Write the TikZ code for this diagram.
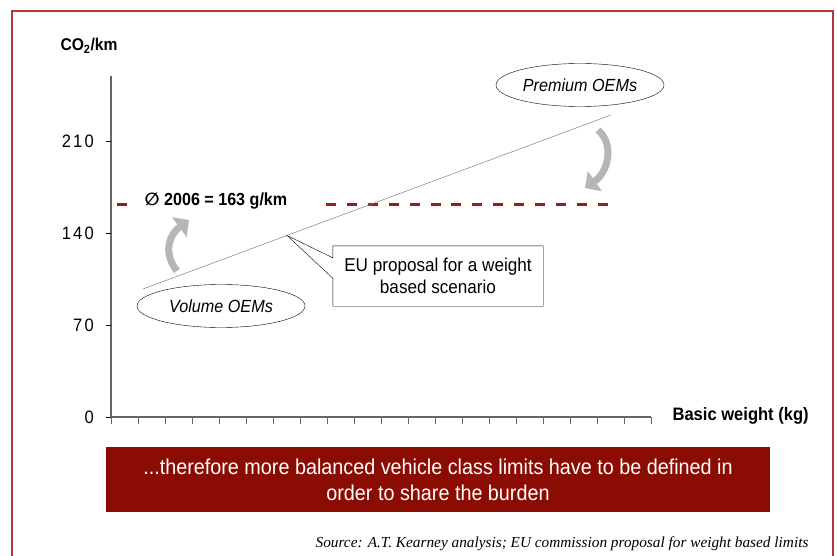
\documentclass[tikz,border=0pt]{standalone}
\usepackage{fontspec}
\setmainfont{Liberation Sans}[FakeStretch=0.92]
\newfontfamily\srcfont{Liberation Serif}
\newfontfamily\symfont{DejaVu Sans}
\usetikzlibrary{shapes.geometric,arrows.meta}
\definecolor{framered}{RGB}{176,58,58}
\definecolor{avgred}{RGB}{155,27,27}
\definecolor{boxred}{RGB}{139,12,3}
\definecolor{arrowgrey}{RGB}{181,182,184}

\begin{document}
\begin{tikzpicture}[x=1pt,y=-1pt,
  axis/.style={draw=black!60,line width=1.1pt},
  oem/.style={ellipse,draw,thin,fill=white,minimum width=168pt,minimum height=43pt,inner sep=0pt,font=\fontsize{17.6}{20}\selectfont\itshape},
  trendarrow/.style={draw=arrowgrey,line width=7pt,-{Triangle[angle=90:17pt]}},
  avgline/.style={draw=avgred,line width=3pt,dash pattern=on 10pt off 10.9pt}]
 \useasboundingbox (0,0) rectangle (837,556);
 \draw[framered,line width=1.5pt] (12,556) -- (12,11) -- (833,11) -- (833,556);

 % axes
 \node[font=\fontsize{17}{19}\selectfont\bfseries] (ylab) at (89,46) {CO\textsubscript{2}/km};
 \draw[axis] (111,76) -- (111,417) -- (651,417);
 \foreach \v/\y in {0/417,70/325,140/233,210/141}{
   \node[anchor=east,inner xsep=1pt,font=\fontsize{18}{20}\selectfont\addfontfeature{LetterSpace=12}] (t\v) at (95,\y) {\v};
   \draw[black,thin] (106,\y) -- (111,\y);}
 \foreach \i in {0,...,20}
   \draw[axis,line width=0.8pt] (111+27*\i,417) -- ++(0,7);
 \node[anchor=west,font=\fontsize{18}{20}\selectfont\bfseries] (xlab) at (669,416) {Basic weight (kg)};

 % average and proposal line
 \draw[avgline] (117,204) -- (127,204) (326,204) -- (610,204);
 \node[font=\fontsize{17.5}{20}\selectfont\bfseries] (avg) at (216,201) {{\symfont ∅} 2006 = 163 g/km};
 \coordinate (lo) at (143,289);
 \coordinate (hi) at (611,115);
 \coordinate (tip) at (287,235.5);
 \draw[black!50,line width=0.5pt] (lo) -- (hi);

 \node[align=center,minimum width=210pt,minimum height=60pt,font=\fontsize{18.6}{22}\selectfont] (eu) at (438,276) {EU proposal for a weight\\based scenario};
 \draw[thin] (eu.north west) -- (eu.north east) -- (eu.south east) -- (eu.south west)
   -- ([yshift=28pt]eu.south west) -- (tip) -- ([yshift=-12pt]eu.north west) -- cycle;

 \node[oem] (vol) at (221,306) {Volume OEMs};
 \node[oem] (prem) at (580,85) {Premium OEMs};
 \draw[trendarrow] (177,271) .. controls (162,252) and (170,234) .. (189,220);
 \draw[trendarrow] (598,130) .. controls (615,145) and (608,172) .. (585,188);

 \node[fill=boxred,text=white,align=center,minimum width=664pt,minimum height=65pt,font=\fontsize{21.5}{26}\selectfont] (concl) at (438,479.5) {...therefore more balanced vehicle class limits have to be defined in\\order to share the burden};
 \node[anchor=east,font=\fontsize{15.3}{17}\srcfont\itshape] (src) at (812,544) {Source: A.T. Kearney analysis; EU commission proposal for weight based limits};
\end{tikzpicture}
\end{document}
